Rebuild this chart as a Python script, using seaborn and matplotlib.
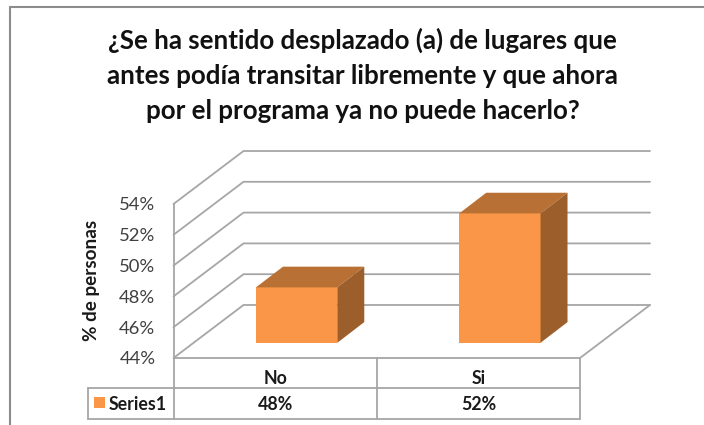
import matplotlib
matplotlib.use("Agg")
import matplotlib.pyplot as plt
import pandas as pd
import seaborn as sns
from matplotlib.lines import Line2D
from matplotlib.patches import Polygon, Rectangle

# data
categories = ["No", "Si"]
values = [47.6, 52.4]
table_labels = ["48%", "52%"]
series_name = "Series1"
y_ticks = [44, 46, 48, 50, 52, 54]
title = ("¿Se ha sentido desplazado (a) de lugares que\n"
         "antes podía transitar libremente y que ahora\n"
         "por el programa ya no puede hacerlo?")

W, H = 704, 425
FRONT = "#F99647"
TOP = "#B97034"
SIDE = "#9C5F2B"
LINE = "#A6A6A6"
TEXT = "#404040"
BOLD = "#1A1A1A"

sns.set_theme(style="white")
plt.rcParams["font.family"] = ["Lato", "DejaVu Sans"]

fig = plt.figure(figsize=(W / 100, H / 100), dpi=100, facecolor="white")


def box(left, right, top, bottom):
    return [left / W, 1 - bottom / H, (right - left) / W, (bottom - top) / H]


def hline(x0, y0, x1, y1, lw=1.3, color=LINE):
    fig.add_artist(Line2D([x0 / W, x1 / W], [1 - y0 / H, 1 - y1 / H], color=color, lw=lw))


# front plane of the chart, holds the axis and the walls
ax = fig.add_axes(box(173.5, 580, 204, 358))
ax.set_xlim(-0.5, 1.5)
ax.set_ylim(y_ticks[0], y_ticks[-1])
ax.patch.set_alpha(0)
sns.despine(ax=ax, top=True, right=True, bottom=True, left=True)
ax.set_yticks(y_ticks, [f"{v}%" for v in y_ticks], fontsize=13.3, color=TEXT)
ax.set_xticks(range(len(categories)), categories, fontsize=12.8, fontweight="bold", color=BOLD)
ax.tick_params(axis="y", length=0, pad=13)
ax.tick_params(axis="x", length=0, pad=9)
ax.set_ylabel("% de personas", fontsize=13.6, fontweight="bold", color=BOLD)
ax.yaxis.set_label_coords(-0.18, 0.505)

# depth of the walls in data units
wall_dx = 70 / 203.25
wall_dy = 53 / 15.4
for v in y_ticks:
    ax.plot([-0.5, -0.5 + wall_dx, 1.5 + wall_dx], [v, v + wall_dy, v + wall_dy],
            color=LINE, lw=1.3, clip_on=False, zorder=1)
ax.plot([-0.5, -0.5], [y_ticks[0], y_ticks[-1]], color=LINE, lw=1.3, clip_on=False)
ax.plot([1.5, 1.5 + wall_dx], [y_ticks[0], y_ticks[0] + wall_dy], color=LINE, lw=1.3, clip_on=False)

# bars sit further back on the floor, so their axes is shifted
bar_ax = fig.add_axes(box(173.5 + 21.5, 580 + 21.5, 204 - 15.2, 358 - 15.2), zorder=3)
bar_ax.patch.set_alpha(0)
df = pd.DataFrame({"respuesta": categories, "pct": values})
sns.barplot(data=df, x="respuesta", y="pct", color=FRONT, saturation=1, width=0.4,
            edgecolor="none", linewidth=0, ax=bar_ax)
bar_ax.set_xlim(-0.5, 1.5)
bar_ax.set_ylim(y_ticks[0], y_ticks[-1])
bar_ax.axis("off")

bar_dx = 27 / 203.25
bar_dy = 20.7 / 15.4
for bar in list(bar_ax.patches):
    x0 = bar.get_x()
    x1 = x0 + bar.get_width()
    y1 = bar.get_height()
    y0 = y_ticks[0]
    bar_ax.add_patch(Polygon([(x0, y1), (x1, y1), (x1 + bar_dx, y1 + bar_dy), (x0 + bar_dx, y1 + bar_dy)],
                             color=TOP, lw=0, clip_on=False))
    bar_ax.add_patch(Polygon([(x1, y0), (x1 + bar_dx, y0 + bar_dy), (x1 + bar_dx, y1 + bar_dy), (x1, y1)],
                             color=SIDE, lw=0, clip_on=False))

# data table under the chart
hline(173.5, 358, 580, 358)
hline(87.5, 388, 580, 388)
hline(87.5, 418.5, 580, 418.5)
hline(87.5, 388, 87.5, 418.5)
hline(173.5, 358, 173.5, 418.5)
hline(376.8, 358, 376.8, 418.5)
hline(580, 358, 580, 418.5)
fig.add_artist(Rectangle((94 / W, 1 - 408 / H), 11 / W, 11 / H, color=FRONT, lw=0,
                         transform=fig.transFigure))
fig.text(109 / W, 1 - 404 / H, series_name, fontsize=12.8, fontweight="bold", color=BOLD,
         ha="left", va="center")
for i, label in enumerate(table_labels):
    x = ax.transAxes.inverted().transform(ax.transData.transform((i, y_ticks[0])))[0]
    fig.text((173.5 + x * 406.5) / W, 1 - 404.5 / H, label, fontsize=12.8, fontweight="bold",
             color=BOLD, ha="center", va="center")

# chart border
hline(9.5, 7, W, 7, lw=1.5, color="#8C8C8C")
hline(9.5, 7, 9.5, H, lw=1.5, color="#8C8C8C")

fig.text(362.5 / W, 1 - 75.5 / H, title, fontsize=18.6, fontweight="bold", color="#111111",
         ha="center", va="center", linespacing=1.55)

fig.savefig("out.png", dpi=100)
